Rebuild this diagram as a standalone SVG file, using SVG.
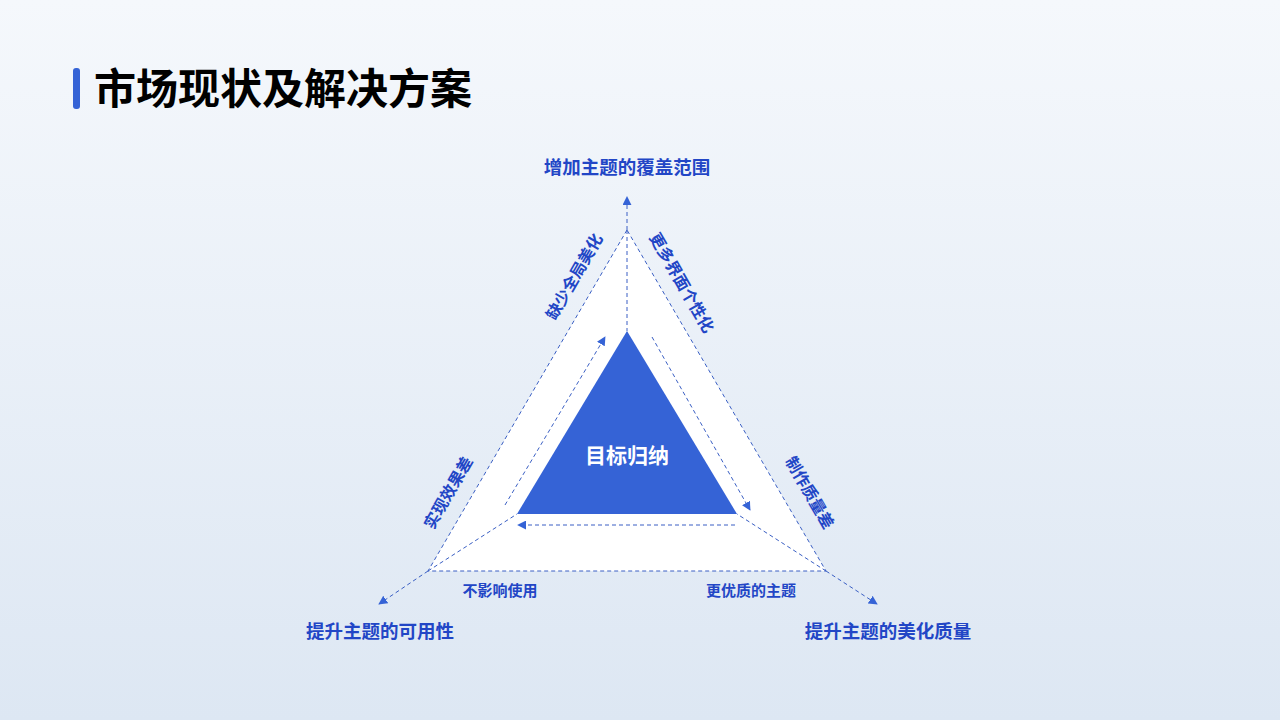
<svg xmlns="http://www.w3.org/2000/svg" width="1280" height="720" viewBox="0 0 1280 720">
<defs>
<linearGradient id="bg" x1="0" y1="0" x2="0" y2="1"><stop offset="0" stop-color="#f5f8fc"/><stop offset="1" stop-color="#dde7f3"/></linearGradient>
<marker id="ah" viewBox="0 0 10 10" refX="9" refY="5" markerWidth="9" markerHeight="9" markerUnits="userSpaceOnUse" orient="auto"><path d="M0,0 L10,5 L0,10 z" fill="#3563d6"/></marker>
<style>
.d{stroke:#3a5fc4;stroke-width:1;stroke-dasharray:4 3;fill:none}
.l{font-family:"Noto Sans CJK SC",sans-serif;font-weight:bold;fill:#2246c6;text-anchor:middle}
</style>
</defs>
<rect width="1280" height="720" fill="url(#bg)"/>
<g id="title"><rect x="73" y="68" width="7" height="41" rx="3" fill="#3563d6"/>
<text x="94" y="104" font-family="Noto Sans CJK SC,sans-serif" font-weight="bold" font-size="42" fill="#000">市场现状及解决方案</text></g>
<g id="outer"><polygon points="627,230 428,571 826,571" fill="#fff"/></g>
<g id="inner"><polygon points="627,331 517,514 737,514" fill="#3563d6"/>
<text x="627" y="463" class="l" font-size="21" style="fill:#fff">目标归纳</text></g>
<g id="connectors">
<polygon points="627,230 428,571 826,571" class="d"/>
<line x1="627" y1="230" x2="627" y2="331" class="d"/>
<line x1="428" y1="571" x2="517" y2="514" class="d"/>
<line x1="826" y1="571" x2="737" y2="514" class="d"/>
<line x1="627" y1="230" x2="627" y2="197" class="d" marker-end="url(#ah)"/>
<line x1="428" y1="571" x2="379" y2="604" class="d" marker-end="url(#ah)"/>
<line x1="826" y1="571" x2="877" y2="604" class="d" marker-end="url(#ah)"/>
<line x1="505" y1="505" x2="605" y2="337" class="d" marker-end="url(#ah)"/>
<line x1="652" y1="337" x2="750" y2="510" class="d" marker-end="url(#ah)"/>
<line x1="735" y1="525" x2="518" y2="525" class="d" marker-end="url(#ah)"/>
</g>
<g id="labels">
<text x="627" y="174" class="l" font-size="18.5">增加主题的覆盖范围</text>
<text x="380" y="638" class="l" font-size="18.5">提升主题的可用性</text>
<text x="888" y="638" class="l" font-size="18.5">提升主题的美化质量</text>
<text x="500" y="596" class="l" font-size="15">不影响使用</text>
<text x="751" y="596" class="l" font-size="15">更优质的主题</text>
<text class="l" font-size="16" transform="translate(575,277) rotate(-60)" y="5">缺少全局美化</text>
<text class="l" font-size="16" transform="translate(449,493) rotate(-60)" y="5">实现效果差</text>
<text class="l" font-size="16" transform="translate(681,283) rotate(60)" y="5">更多界面个性化</text>
<text class="l" font-size="16" transform="translate(809,493) rotate(60)" y="5">制作质量差</text>
</g>
</svg>
